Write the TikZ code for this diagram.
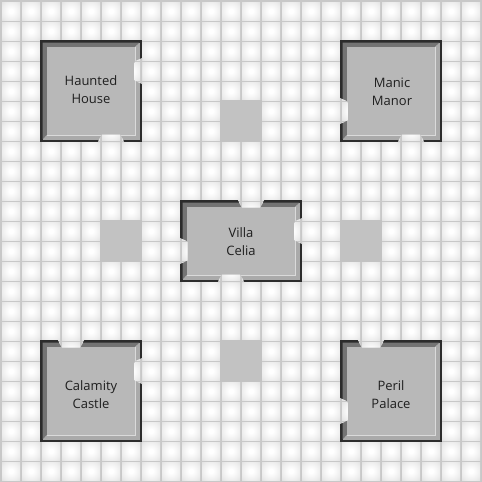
\documentclass[tikz,border=0pt]{standalone}
\usepackage{fontspec}
\setmainfont{Open Sans}
\usepackage{tikz}
\definecolor{gridline}{RGB}{200,200,200}
\definecolor{tilemid}{RGB}{235,235,235}
\definecolor{tileedge}{RGB}{212,212,212}
\definecolor{roomface}{RGB}{184,184,184}
\definecolor{padface}{RGB}{194,194,194}
\definecolor{roomdark}{RGB}{44,44,44}
\definecolor{bevelshade}{RGB}{116,116,116}
\definecolor{bevelmid}{RGB}{170,170,170}
\definecolor{bevellight}{RGB}{218,218,218}
\pgfdeclareradialshading{floortile}{\pgfpoint{0bp}{0bp}}{color(0bp)=(white); color(6bp)=(white); color(28bp)=(tilemid); color(50bp)=(tileedge)}
\tikzset{
  tile/.style={shading=floortile,draw=none},
  pad/.style={fill=padface,draw=none},
  roomlabel/.style={align=center,font=\fontsize{13}{18}\selectfont,text=black!88,inner sep=0pt}
}
% one room: left, top, width, height
\newcommand{\roombox}[4]{
  \fill[roomdark] (#1,#2) rectangle ++(#3,#4);
  \fill[bevelmid] (#1+2.5,#2+2.5) rectangle (#1+#3-2.5,#2+#4-2.5);
  \fill[bevelshade] (#1+2.5,#2+2.5) -- (#1+#3-2.5,#2+2.5) -- (#1+#3-7.5,#2+7) -- (#1+7,#2+#4-7.5) -- (#1+2.5,#2+#4-2.5) -- cycle;
  \fill[roomface] (#1+7,#2+7) rectangle (#1+#3-7.5,#2+#4-7.5);
  \draw[bevellight,line width=1.2pt] (#1+#3-6.9,#2+7) -- (#1+#3-6.9,#2+#4-6.9) -- (#1+7,#2+#4-6.9);
}
% door: centre of its outer edge, then inward direction
\newcommand{\doorway}[4]{
  \begin{scope}
    \clip (#1+13*#4,#2+13*#3) -- (#1+7.5*#3+9.5*#4,#2+7.5*#4+9.5*#3) -- (#1+7.5*#3-9.5*#4,#2+7.5*#4-9.5*#3) -- (#1-13*#4,#2-13*#3) -- cycle;
    \fill[gridline] (#1-30,#2-30) rectangle (#1+30,#2+30);
    \pgfmathtruncatemacro{\colbase}{#1/20-1}
    \pgfmathtruncatemacro{\rowbase}{#2/20-1}
    \foreach \dcol in {0,1,2}
      \foreach \drow in {0,1,2}
        \shade[tile] (\colbase*20+\dcol*20+2,\rowbase*20+\drow*20+2) rectangle ++(18,18);
  \end{scope}
}
\begin{document}
\begin{tikzpicture}[x=1pt,y=1pt,yscale=-1]
  \useasboundingbox (0,0) rectangle (482,482);
  \fill[gridline] (0,0) rectangle (482,482);
  % floor tiles
  \foreach \col in {0,...,23}
    \foreach \row in {0,...,23}
      \shade[tile] (\col*20+2,\row*20+2) rectangle ++(18,18);
  % pads
  \fill[pad] (220,100) rectangle ++(42,42);
  \fill[pad] (100,220) rectangle ++(42,42);
  \fill[pad] (340,220) rectangle ++(42,42);
  \fill[pad] (220,340) rectangle ++(42,42);
  % rooms
  \roombox{40}{40}{102}{102}
  \roombox{340}{40}{102}{102}
  \roombox{180}{200}{122}{82}
  \roombox{40}{340}{102}{102}
  \roombox{340}{340}{102}{102}
  % doors
  \doorway{142}{71}{-1}{0}
  \doorway{111}{142}{0}{-1}
  \doorway{340}{111}{1}{0}
  \doorway{411}{142}{0}{-1}
  \doorway{251}{200}{0}{1}
  \doorway{302}{231}{-1}{0}
  \doorway{180}{251}{1}{0}
  \doorway{231}{282}{0}{-1}
  \doorway{71}{340}{0}{1}
  \doorway{142}{371}{-1}{0}
  \doorway{371}{340}{0}{1}
  \doorway{340}{411}{1}{0}
  % labels
  \node[roomlabel] (hauntedhouse) at (91,90) {Haunted\\House};
  \node[roomlabel] (manicmanor) at (392,92) {Manic\\Manor};
  \node[roomlabel] (villacelia) at (241,242) {Villa\\Celia};
  \node[roomlabel] (calamitycastle) at (91,395) {Calamity\\Castle};
  \node[roomlabel] (perilpalace) at (391,395) {Peril\\Palace};
\end{tikzpicture}
\end{document}
